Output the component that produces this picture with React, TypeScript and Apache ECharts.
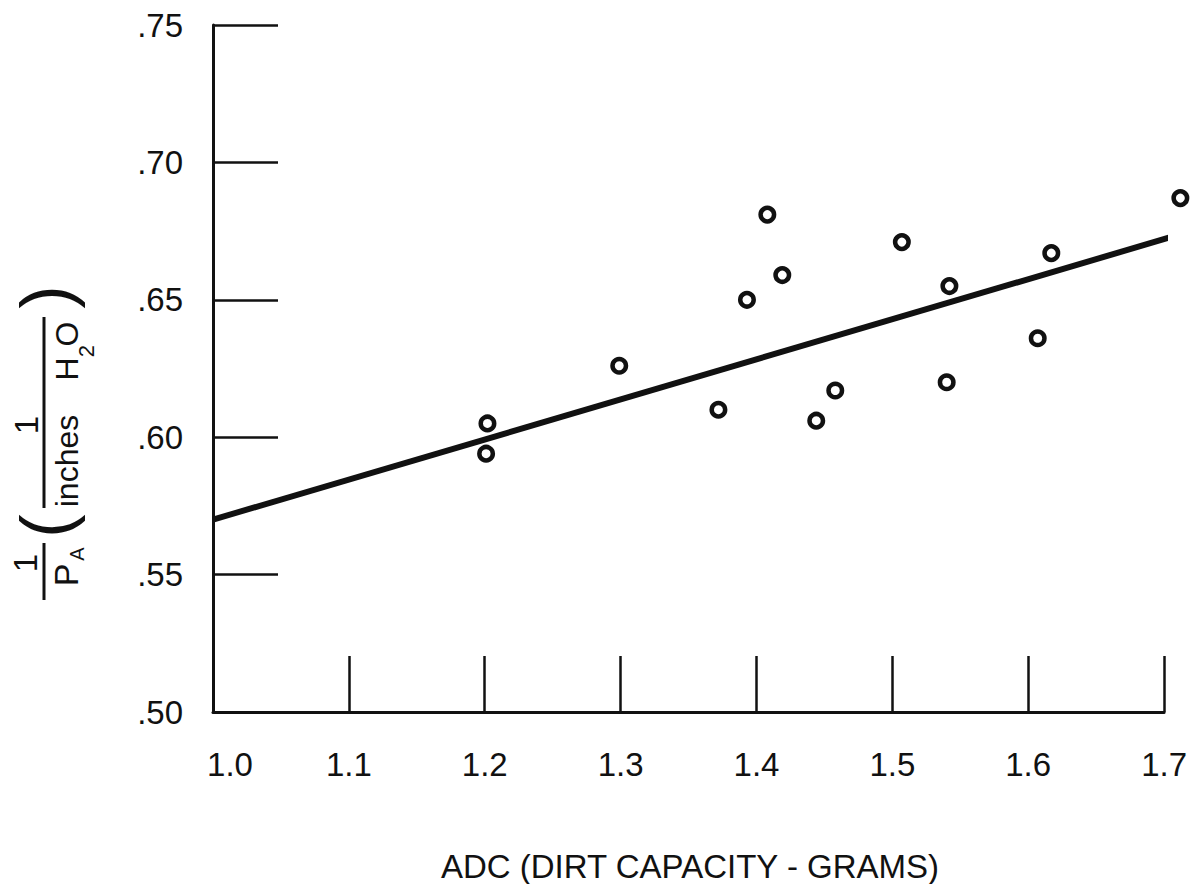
import React, { useEffect, useRef } from "react";
import * as echarts from "echarts";

// ---- data ----
const adcGrams = [1.202, 1.201, 1.299, 1.372, 1.393, 1.408, 1.419, 1.444, 1.458, 1.507, 1.542, 1.54, 1.607, 1.617, 1.712];
const invPa = [0.605, 0.594, 0.626, 0.61, 0.65, 0.681, 0.659, 0.606, 0.617, 0.671, 0.655, 0.62, 0.636, 0.667, 0.687];
const fitX = [1.0, 1.72];
const fitY = [0.570, 0.675];
const xRange = [1.0, 1.7];
const xStep = 0.1;
const yRange = [0.5, 0.75];
const yStep = 0.05;
const xName = "ADC (DIRT CAPACITY - GRAMS)";

const FONT = "Liberation Sans";
const INK = "#111";

export default function App() {
  const ref = useRef<HTMLDivElement>(null);
  useEffect(() => {
    if (!ref.current) return;
    const chart = echarts.init(ref.current, undefined, { renderer: "svg" });
    const R = Math.PI / 2;
    const txt = (text: string, x: number, y: number, size: number, extra: any = {}) => ({
      type: "text",
      x,
      y,
      rotation: R,
      style: { text, fontSize: size, fontFamily: FONT, fill: INK, align: "center", verticalAlign: "middle", ...extra },
    });
    chart.setOption({
      animation: false,
      backgroundColor: "#fff",
      grid: { left: 213, right: 22, top: 25, bottom: 172, containLabel: false },
      xAxis: {
        type: "value",
        min: xRange[0],
        max: xRange[1],
        interval: xStep,
        splitLine: { show: false },
        axisLine: { show: true, onZero: false, lineStyle: { color: INK, width: 3 } },
        axisTick: { show: true, inside: true, length: 56, lineStyle: { color: INK, width: 2.5 } },
        axisLabel: {
          margin: 36,
          color: INK,
          fontSize: 33,
          fontFamily: FONT,
          formatter: (v: number) => (Math.abs(v - xRange[0]) < 1e-9 ? "{f|" + v.toFixed(1) + "}" : v.toFixed(1)),
          rich: { f: { fontSize: 33, fontFamily: FONT, color: INK, padding: [0, 0, 0, 34] } },
        },
      },
      yAxis: {
        type: "value",
        min: yRange[0],
        max: yRange[1],
        interval: yStep,
        splitLine: { show: false },
        axisLine: { show: true, onZero: false, lineStyle: { color: INK, width: 3 } },
        axisTick: { show: true, inside: true, length: 65, lineStyle: { color: INK, width: 2.5 } },
        axisLabel: {
          margin: 30,
          color: INK,
          fontSize: 33,
          fontFamily: FONT,
          formatter: (v: number) => v.toFixed(2).replace(/^0/, ""),
        },
      },
      series: [
        {
          type: "line",
          data: fitX.map((x, i) => [x, fitY[i]]),
          symbol: "none",
          clip: false,
          lineStyle: { color: INK, width: 6 },
          z: 2,
        },
        {
          type: "scatter",
          data: adcGrams.map((x, i) => [x, invPa[i]]),
          symbol: "circle",
          symbolSize: 13.5,
          clip: false,
          itemStyle: { color: "#fff", borderColor: INK, borderWidth: 4.5, opacity: 1 },
          z: 3,
        },
      ],
      graphic: [
        {
          type: "text",
          x: 690,
          y: 866,
          style: { text: xName, fontSize: 33, fontFamily: FONT, fill: INK, align: "center", verticalAlign: "middle" },
        },
        // y-axis label: 1/P_A (1 / inches H2O), rotated
        txt("1", 25, 563, 33),
        { type: "line", shape: { x1: 44, y1: 543, x2: 44, y2: 600 }, style: { stroke: INK, lineWidth: 3 } },
        txt("P", 66, 575, 34),
        txt("A", 77, 554, 20),
        txt("(", 46, 526, 70),
        txt("1", 26, 425, 33),
        { type: "line", shape: { x1: 44, y1: 317, x2: 44, y2: 508 }, style: { stroke: INK, lineWidth: 3 } },
        txt("inches", 67, 461, 32),
        txt("H", 67, 369, 32),
        txt("2", 86, 351, 22),
        txt("O", 67, 334, 32),
        txt(")", 46, 297, 70),
      ],
    });
    return () => chart.dispose();
  }, []);
  return <div ref={ref} style={{ position: "fixed", left: 0, top: 0, width: 1190, height: 884, background: "#fff" }} />;
}
